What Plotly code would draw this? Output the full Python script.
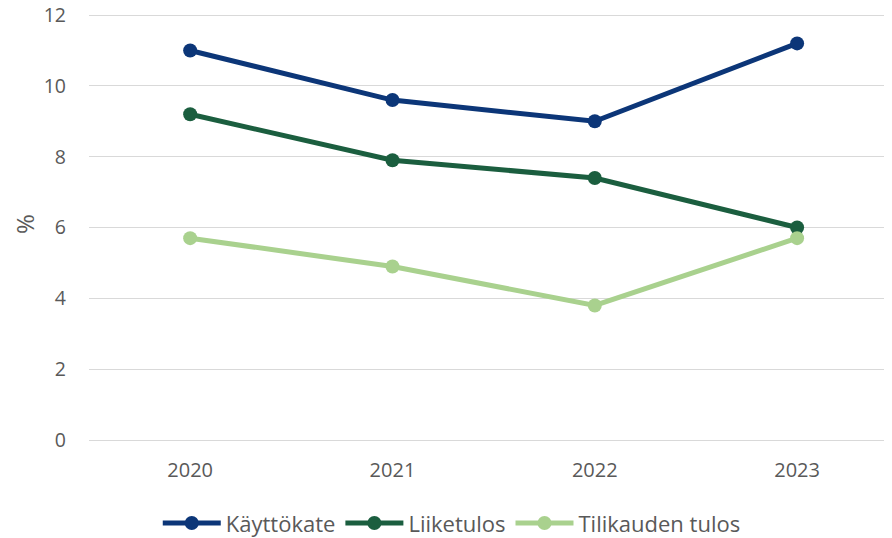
import plotly.graph_objects as go

years = ["2020", "2021", "2022", "2023"]
kayttokate = [11.0, 9.6, 9.0, 11.2]
liiketulos = [9.2, 7.9, 7.4, 6.0]
tilikauden_tulos = [5.7, 4.9, 3.8, 5.7]

series_names = ["Käyttökate", "Liiketulos", "Tilikauden tulos"]
series_values = [kayttokate, liiketulos, tilikauden_tulos]
colors = ["#0c3678", "#1b5e3f", "#a9d18e"]

y_ticks = [0, 2, 4, 6, 8, 10, 12]

FONT = "Open Sans"
GRAY = "#595959"

fig = go.Figure()
for name, vals, col in zip(series_names, series_values, colors):
    fig.add_trace(go.Scatter(
        x=years, y=vals, name=name, mode="lines+markers",
        line=dict(color=col, width=5),
        marker=dict(color=col, size=14),
    ))

# page body has an 8px default margin; figure sized to fit the window
fig.update_layout(
    width=884, height=530,
    margin=dict(l=81, r=0, t=0, b=98, autoexpand=False),
    paper_bgcolor="white", plot_bgcolor="white",
    font=dict(family=FONT, size=20, color=GRAY),
    showlegend=True,
    legend=dict(orientation="h", x=0.502, xanchor="center", xref="container",
                y=0.028, yanchor="middle", yref="container",
                font=dict(family=FONT, size=22, color=GRAY),
                itemwidth=58, tracegroupgap=0),
    xaxis=dict(type="category", range=[-0.5, 3.469], showgrid=False,
               showline=False, zeroline=False, ticks="", automargin=False,
               ticklabelstandoff=16,
               tickfont=dict(family=FONT, size=20, color=GRAY)),
    yaxis=dict(range=[0, 12.2], tickvals=y_ticks, showgrid=True,
               gridcolor="#d9d9d9", gridwidth=1, zeroline=True,
               zerolinecolor="#d9d9d9", zerolinewidth=1, automargin=False,
               showline=False, ticks="", ticklabelstandoff=22,
               ticklabeloverflow="allow",
               tickfont=dict(family=FONT, size=19.5, color=GRAY),
               title=dict(text="%", standoff=10,
                          font=dict(family=FONT, size=24, color=GRAY))),
)

fig.write_html("out.html", config={"displayModeBar": False})
